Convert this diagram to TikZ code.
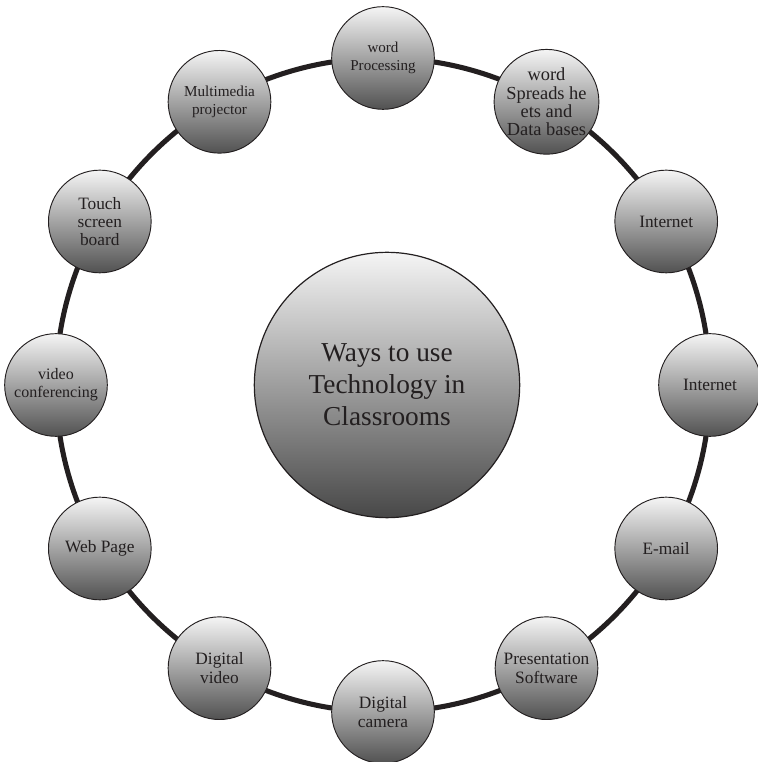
\documentclass[tikz,border=0pt]{standalone}
\usepackage{fontspec}
\setmainfont{Liberation Serif}
\definecolor{inkgray}{HTML}{231F20}

\begin{document}
\begin{tikzpicture}[x=0.75pt, y=0.75pt,
    usenode/.style={circle, draw=inkgray, line width=0.7pt, top color=black!4, bottom color=black!68,
      minimum size=77pt, inner sep=0pt, align=center, text=inkgray,
      font=\fontsize{13}{13.8}\selectfont},
    hubnode/.style={circle, draw=inkgray, line width=0.9pt, top color=black!4, bottom color=black!72,
      minimum size=199pt, inner sep=0pt, align=center, text=inkgray,
      font=\fontsize{20.5}{24}\selectfont},
    ring/.style={draw=inkgray, line width=3.8pt},
  ]
  \useasboundingbox (-383,-377) rectangle (374,385);

  % the ring that links all the uses
  \coordinate (ringcentre) at (0,0);
  \draw[ring] (ringcentre) circle (327);

  \node[hubnode]  (hub)           at (4,0)       {Ways to use\\Technology in\\Classrooms};

  \node[usenode, font=\fontsize{11.3}{13}\selectfont]
                  (wordproc)      at (90:327)    {word\\Processing};
  \node[usenode, font=\fontsize{13.8}{13.6}\selectfont]
                  (spreadsheet)   at (60:327)    {word\\Spreads he\\ets and\\Data bases};
  \node[usenode]  (internetA)     at (30:327)    {Internet};
  \node[usenode]  (internetB)     at (0:327)     {Internet};
  \node[usenode]  (email)         at (-30:327)   {E-mail};
  \node[usenode]  (presentation)  at (-60:327)   {Presentation\\Software};
  \node[usenode]  (camera)        at (-90:327)   {Digital\\camera};
  \node[usenode]  (video)         at (-120:327)  {Digital\\video};
  \node[usenode]  (webpage)       at (-150:327)  {Web Page};
  \node[usenode, font=\fontsize{12}{13.5}\selectfont]
                  (conferencing)  at (180:327)   {video\\conferencing};
  \node[usenode]  (touchboard)    at (150:327)   {Touch\\screen\\board};
  \node[usenode, font=\fontsize{11.4}{13}\selectfont]
                  (projector)     at (120:327)   {Multimedia\\projector};
\end{tikzpicture}
\end{document}
